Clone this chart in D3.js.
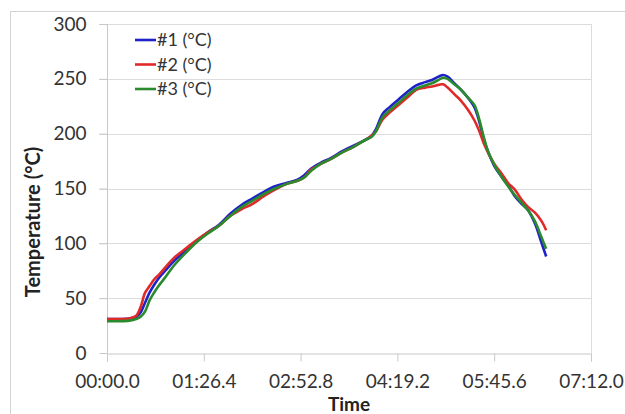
<!DOCTYPE html>
<html>
<head>
<meta charset="utf-8">
<script src="https://cdn.jsdelivr.net/npm/d3@7"></script>
<style>
  html, body { margin: 0; padding: 0; background: #fff; }
  svg { display: block; }
</style>
</head>
<body>
<svg id="chart" width="625" height="414"></svg>
<script>
// time in seconds, x axis runs 00:00.0 .. 07:12.0
const times = [0, 10, 20, 26, 30, 34, 38, 42, 46, 52, 60, 70, 80, 90, 100, 110, 120, 130, 140, 150,
  160, 170, 176, 182, 190, 200, 210, 220, 230, 236, 240, 246, 252, 260, 268, 276, 284, 290, 296, 300,
  304, 310, 316, 322, 328, 332, 336, 340, 346, 352, 358, 364, 370, 376, 382, 388, 392];

const t1 = [31, 31, 31.5, 33, 37, 46, 55, 62, 68, 75, 84, 93, 102, 110, 117, 127, 135, 141, 147, 152,
  155, 158, 162, 168, 173, 178, 184, 189, 194, 198, 204, 218, 224, 231, 238, 244, 247, 249, 252, 253.5,
  252, 246, 240, 233, 224, 212, 196, 184, 170, 161, 153, 143, 136, 130, 118, 100, 88];

const t2 = [31, 31, 31.5, 34, 42, 55, 61, 67, 71, 78, 87, 95, 103, 110, 116, 125, 131, 136, 143, 149,
  154, 157, 160, 167, 172, 177, 183, 188, 194, 198, 202, 213, 219, 226, 233, 240, 242, 243, 244.5, 245,
  242, 236, 230, 222, 212, 203, 192, 183, 172, 164, 155, 149, 140, 133, 128, 120, 112];

const t3 = [29, 29, 29.5, 31, 33, 38, 48, 55, 61, 69, 80, 91, 101, 109, 116, 125, 133, 139, 145, 150,
  154, 157, 160, 166, 172, 177, 183, 188, 194, 197, 202, 215, 221, 228, 235, 241, 244, 246, 249, 251,
  250, 245, 240, 233, 226, 214, 198, 184, 171, 161, 152, 144, 137, 130, 120, 105, 95];

const seriesNames = ["#1 (°C)", "#2 (°C)", "#3 (°C)"];
const seriesColors = ["#1f22c8", "#e02a2a", "#2a8a2e"];
const xTicks = [0, 86.4, 172.8, 259.2, 345.6, 432];
const yTicks = [0, 50, 100, 150, 200, 250, 300];

const d3 = window.d3;
const svg = d3.select("#chart");
const W = 625, H = 414;
const margin = { top: 24, right: 34, bottom: 61, left: 107 };
const font = "Lato, 'Open Sans', sans-serif";

// outer chart border
svg.append("rect")
  .attr("x", 10.5).attr("y", 11.5)
  .attr("width", W + 20).attr("height", H + 20)
  .attr("fill", "none").attr("stroke", "#d4d4d4");

const x = d3.scaleLinear().domain([0, 432]).range([margin.left, W - margin.right]);
const y = d3.scaleLinear().domain([0, 300]).range([H - margin.bottom, margin.top]);

// gridlines
svg.append("g")
  .selectAll("line")
  .data(yTicks.slice(1))
  .enter().append("line")
  .attr("x1", x(0) - 8).attr("x2", x(432))
  .attr("y1", d => Math.round(y(d)) + 0.5).attr("y2", d => Math.round(y(d)) + 0.5)
  .attr("stroke", "#dcdcdc");

// right edge of plot area
svg.append("line")
  .attr("x1", Math.round(x(432)) + 0.5).attr("x2", Math.round(x(432)) + 0.5)
  .attr("y1", y(300)).attr("y2", y(0))
  .attr("stroke", "#dcdcdc");

// y axis
const gy = svg.append("g")
  .attr("transform", `translate(${Math.round(x(0)) + 0.5},0)`)
  .call(d3.axisLeft(y).tickValues(yTicks).tickSize(8).tickPadding(13).tickFormat(d3.format("d")));

// x axis
const mmss = s => {
  const m = Math.floor(s / 60);
  const r = s - m * 60;
  return String(m).padStart(2, "0") + ":" + r.toFixed(1).padStart(4, "0");
};
const gx = svg.append("g")
  .attr("transform", `translate(0,${Math.round(y(0)) + 0.5})`)
  .call(d3.axisBottom(x).tickValues(xTicks).tickSize(8).tickPadding(13).tickFormat(mmss));

svg.selectAll(".domain").attr("stroke", "#c8c8c8");
svg.selectAll(".tick line").attr("stroke", "#c8c8c8");
svg.selectAll(".tick text")
  .attr("fill", "#333")
  .attr("font-family", font)
  .attr("font-size", 19);
gy.select(".domain").attr("d", `M0,${y(300)}V${y(0)}`);

// series
const line = d3.line()
  .x(d => x(d[0]))
  .y(d => y(d[1]))
  .curve(d3.curveCatmullRom.alpha(0.5));

[t1, t2, t3].forEach((vals, i) => {
  svg.append("path")
    .datum(times.map((t, j) => [t, vals[j]]))
    .attr("fill", "none")
    .attr("stroke", seriesColors[i])
    .attr("stroke-width", 2.6)
    .attr("stroke-linejoin", "round")
    .attr("d", line);
});

// legend
const lg = svg.append("g");
seriesNames.forEach((name, i) => {
  const ly = 40 + i * 24.5;
  lg.append("line")
    .attr("x1", 135).attr("x2", 156)
    .attr("y1", ly).attr("y2", ly)
    .attr("stroke", seriesColors[i]).attr("stroke-width", 2.6);
  lg.append("text")
    .attr("x", 157).attr("y", ly)
    .attr("dy", "0.36em")
    .attr("font-family", font).attr("font-size", 18)
    .attr("fill", "#333")
    .text(name);
});

// axis titles
svg.append("text")
  .attr("x", (x(0) + x(432)) / 2).attr("y", 411)
  .attr("text-anchor", "middle")
  .attr("font-family", font).attr("font-size", 19).attr("font-weight", "bold")
  .attr("fill", "#222")
  .text("Time");

svg.append("text")
  .attr("transform", "translate(40,222) rotate(-90)")
  .attr("text-anchor", "middle")
  .attr("font-family", font).attr("font-size", 20).attr("font-weight", "bold")
  .attr("fill", "#222")
  .text("Temperature (°C)");
</script>
</body>
</html>
